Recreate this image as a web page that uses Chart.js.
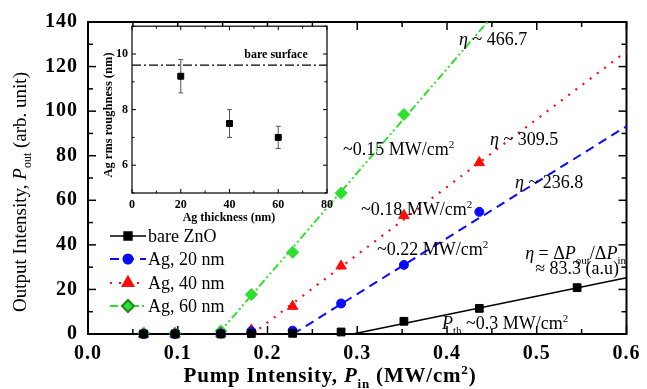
<!DOCTYPE html>
<html>
<head>
<meta charset="utf-8">
<script src="https://cdn.jsdelivr.net/npm/chart.js@4.4.1/dist/chart.umd.min.js"></script>
<style>
  html, body { margin: 0; padding: 0; background: #fff; }
  #wrap { position: relative; width: 647px; height: 389px; overflow: hidden; }
  #mainChart { position: absolute; left: 0; top: 0; }
  #insetChart { position: absolute; left: 95px; top: 15px; }
</style>
</head>
<body>
<div id="wrap">
  <canvas id="mainChart" width="647" height="389"></canvas>
  <canvas id="insetChart" width="245" height="215"></canvas>
</div>
<script>
// pump intensity (MW/cm2) and output intensity (arb. unit) for each sample
const pumpIn  = [0.062, 0.097, 0.148, 0.182, 0.228, 0.282, 0.352, 0.436, 0.545];
const bareZnO = [0, 0, 0, 0.2, 0.3, 0.9, 5.7, 11.5, 20.8];
const ag20nm  = [0, 0, 0.2, 1.2, 1.5, 13.7, 31.0, 54.8, null];
const ag40nm  = [0, 0, 0.3, 1.8, 12.4, 30.5, 53.2, 76.9, null];
const ag60nm  = [0.5, 0.5, 1.3, 17.7, 36.7, 63.2, 98.5, null, null];

// linear fits above threshold
const fitBareX = [0.295, 0.6],  fitBareY = [0, 25.2];
const fitAg20X = [0.2285, 0.6], fitAg20Y = [0, 93.2];
const fitAg40X = [0.183, 0.6],  fitAg40Y = [0, 126.8];
const fitAg60X = [0.145, 0.445], fitAg60Y = [0, 140];

const seriesNames = ['bare ZnO', 'Ag, 20 nm', 'Ag, 40 nm', 'Ag, 60 nm'];
const slopeLabels = ['466.7', '309.5', '236.8', '83.3'];
const thresholdLabels = ['~0.15 MW/cm', '~0.18 MW/cm', '~0.22 MW/cm', '~0.3 MW/cm'];

const xTicks = [0, 0.1, 0.2, 0.3, 0.4, 0.5, 0.6];
const yTicks = [0, 20, 40, 60, 80, 100, 120, 140];

// inset: Ag rms roughness vs Ag thickness
const agThickness = [20, 40, 60];
const roughness = [9.2, 7.5, 7.0];
const roughnessErr = [0.6, 0.5, 0.4];
const bareSurface = 9.6;
const insetXTicks = [0, 20, 40, 60, 80];
const insetYTicks = [6, 8, 10];

const SERIF = '"Liberation Serif", "Times New Roman", serif';
const toPts = (xs, ys) => xs.map((v, i) => ({x: v, y: ys[i]})).filter(p => p.y !== null);

const BLACK = '#000000', BLUE = '#0a0aff', RED = '#ff0a0a', GREEN = '#2ee02e';

// draw text made of pieces: [text, kind] kind = '', 'i', 'sub', 'sup'
function richText(ctx, parts, x, y, align, size, weight) {
  const fontOf = k => {
    const s = (k === 'sub' || k === 'sup') ? Math.round(size * 0.62) : size;
    const it = (k === 'i') ? 'italic ' : '';
    return `${it}${weight} ${s}px ${SERIF}`;
  };
  let w = 0;
  parts.forEach(p => { ctx.font = fontOf(p[1]); w += ctx.measureText(p[0]).width; });
  let cx = align === 'center' ? x - w / 2 : (align === 'right' ? x - w : x);
  ctx.textAlign = 'left';
  ctx.textBaseline = 'alphabetic';
  parts.forEach(p => {
    ctx.font = fontOf(p[1]);
    const dy = p[1] === 'sub' ? size * 0.28 : (p[1] === 'sup' ? -size * 0.38 : 0);
    ctx.fillText(p[0], cx, y + dy);
    cx += ctx.measureText(p[0]).width;
  });
}

function seg(ctx, x1, y1, x2, y2) {
  ctx.beginPath(); ctx.moveTo(x1, y1); ctx.lineTo(x2, y2); ctx.stroke();
}

// frame with inward ticks on all four sides
function drawFrame(chart, o) {
  const {ctx, chartArea: a, scales: {x, y}} = chart;
  ctx.save();
  ctx.strokeStyle = '#000';
  ctx.setLineDash([]);
  ctx.lineWidth = o.tickWidth;
  for (let v = x.min; v <= x.max + 1e-9; v += o.xMinor) {
    const px = x.getPixelForValue(v);
    const major = Math.abs(v / o.xMajor - Math.round(v / o.xMajor)) < 1e-6;
    const len = major ? o.major : o.minor;
    seg(ctx, px, a.bottom, px, a.bottom - len);
    seg(ctx, px, a.top, px, a.top + len);
  }
  for (let v = y.min; v <= y.max + 1e-9; v += o.yMinor) {
    const py = y.getPixelForValue(v);
    const major = Math.abs(v / o.yMajor - Math.round(v / o.yMajor)) < 1e-6;
    const len = major ? o.major : o.minor;
    seg(ctx, a.left, py, a.left + len, py);
    seg(ctx, a.right, py, a.right - len, py);
  }
  ctx.lineWidth = o.frameWidth;
  ctx.strokeRect(a.left, a.top, a.right - a.left, a.bottom - a.top);
  ctx.restore();
}

const mainDecor = {
  id: 'mainDecor',
  beforeDraw(chart) {
    // tick labels of the original are a bit wider than Liberation Serif
    chart.ctx.letterSpacing = '1px';
  },
  beforeDatasetsDraw(chart) {
    chart.ctx.letterSpacing = '0px';
    drawFrame(chart, {xMinor: 0.05, xMajor: 0.1, yMinor: 10, yMajor: 20,
      major: 8, minor: 5, tickWidth: 1.5, frameWidth: 2});
  },
  afterDraw(chart) {
    const ctx = chart.ctx;
    ctx.save();
    ctx.fillStyle = '#000';

    // axis titles
    ctx.letterSpacing = '0.8px';
    richText(ctx, [['Pump Intensity, ', ''], ['P', 'i'], ['in', 'sub'], [' (MW/cm', ''], ['2', 'sup'], [')', '']],
      330, 382, 'center', 21, 'bold');
    ctx.letterSpacing = '0px';
    ctx.save();
    ctx.translate(19, 192);
    ctx.rotate(-Math.PI / 2);
    richText(ctx, [['Output Intensity, ', ''], ['P', 'i'], ['out', 'sub'], [' (arb. unit)', '']],
      0, 7, 'center', 19, 'normal');
    ctx.restore();

    // slope and threshold annotations
    const eta = (v, x, y) => richText(ctx, [['\u03b7', 'i'], [' ~ ' + v, '']], x, y, 'left', 18, 'normal');
    eta(slopeLabels[0], 459, 45);
    eta(slopeLabels[1], 490, 145);
    eta(slopeLabels[2], 515, 188);
    const thr = (t, x, y) => richText(ctx, [[t, ''], ['2', 'sup']], x, y, 'left', 18, 'normal');
    thr(thresholdLabels[0], 343, 155);
    thr(thresholdLabels[1], 361, 215);
    thr(thresholdLabels[2], 377, 255);
    richText(ctx, [['\u03b7', 'i'], [' = \u0394', ''], ['P', 'i'], ['out', 'sub'], ['/\u0394', ''], ['P', 'i'], ['in', 'sub']],
      626, 259, 'right', 18, 'normal');
    richText(ctx, [['\u2248 ' + slopeLabels[3] + ' (a.u)', '']], 619, 274, 'right', 18, 'normal');
    richText(ctx, [['P', 'i'], ['th', 'sub'], [' ' + thresholdLabels[3], ''], ['2', 'sup']],
      442, 329, 'left', 18, 'normal');

    // legend
    const ds = chart.data.datasets;
    const rowY = [236, 259, 283, 306];
    for (let i = 0; i < 4; i++) {
      const d = ds[i], f = ds[i + 4];
      ctx.save();
      ctx.strokeStyle = f.borderColor;
      ctx.lineWidth = f.borderWidth;
      ctx.setLineDash(f.borderDash || []);
      seg(ctx, 110, rowY[i], 146, rowY[i]);
      ctx.setLineDash([]);
      ctx.fillStyle = d.backgroundColor;
      ctx.strokeStyle = i === 3 ? '#1e8a1e' : d.borderColor;
      Chart.helpers.drawPoint(ctx, {pointStyle: d.pointStyle, radius: d.pointRadius, rotation: 0,
        borderWidth: i === 3 ? 1 : d.borderWidth}, 128, rowY[i]);
      ctx.restore();
      ctx.fillStyle = '#000';
      richText(ctx, [[seriesNames[i], '']], 148, rowY[i] + 6, 'left', 18, 'normal');
    }
    ctx.restore();
  }
};

const markerSet = (label, ys, style, color, r) => ({
  label, data: toPts(pumpIn, ys), showLine: false, clip: false,
  pointStyle: style, pointRadius: r, pointHoverRadius: r,
  backgroundColor: color, borderColor: color, borderWidth: 1
});
const fitSet = (xs, ys, color, dash, w) => ({
  data: toPts(xs, ys), showLine: true, pointRadius: 0, clip: false,
  borderColor: color, borderWidth: w, borderDash: dash, fill: false
});

new Chart(document.getElementById('mainChart'), {
  type: 'scatter',
  data: {
    datasets: [
      markerSet(seriesNames[0], bareZnO, 'rect', BLACK, 5.5),
      markerSet(seriesNames[1], ag20nm, 'circle', BLUE, 4.5),
      markerSet(seriesNames[2], ag40nm, 'triangle', RED, 6),
      markerSet(seriesNames[3], ag60nm, 'rectRot', GREEN, 6),
      fitSet(fitBareX, fitBareY, BLACK, [], 1.6),
      fitSet(fitAg20X, fitAg20Y, BLUE, [9, 6], 2),
      fitSet(fitAg40X, fitAg40Y, RED, [2, 7], 2.2),
      fitSet(fitAg60X, fitAg60Y, GREEN, [8, 3, 2, 3, 2, 3], 2)
    ]
  },
  options: {
    responsive: false,
    animation: false,
    layout: {padding: {left: 0, top: 17, right: 15, bottom: 0}},
    plugins: {legend: {display: false}, tooltip: {enabled: false}},
    scales: {
      x: {
        type: 'linear', min: 0, max: 0.6,
        afterBuildTicks: s => { s.ticks = xTicks.map(v => ({value: v})); },
        afterFit: s => { s.height = 55; },
        grid: {display: false, drawTicks: false}, border: {display: false},
        ticks: {color: '#000', padding: 8, maxRotation: 0, autoSkip: false,
          font: {family: SERIF, size: 20, weight: 'bold'},
          callback: v => v.toFixed(1)}
      },
      y: {
        min: 0, max: 140,
        afterBuildTicks: s => { s.ticks = yTicks.map(v => ({value: v})); },
        afterFit: s => { s.width = 88; },
        grid: {display: false, drawTicks: false}, border: {display: false},
        ticks: {color: '#000', padding: 10, font: {family: SERIF, size: 20, weight: 'bold'}}
      }
    }
  },
  plugins: [mainDecor]
});

// inset chart
const insetDecor = {
  id: 'insetDecor',
  beforeDatasetsDraw(chart) {
    const {ctx, chartArea: a} = chart;
    ctx.save();
    ctx.fillStyle = '#fff';
    ctx.fillRect(a.left, a.top, a.right - a.left, a.bottom - a.top);
    ctx.restore();
    drawFrame(chart, {xMinor: 10, xMajor: 20, yMinor: 1, yMajor: 2,
      major: 4, minor: 2.5, tickWidth: 1, frameWidth: 1.2});
    // error bars
    const {scales: {x, y}} = chart;
    ctx.save();
    ctx.strokeStyle = '#555';
    ctx.lineWidth = 1;
    agThickness.forEach((t, i) => {
      const px = x.getPixelForValue(t);
      const top = y.getPixelForValue(roughness[i] + roughnessErr[i]);
      const bot = y.getPixelForValue(roughness[i] - roughnessErr[i]);
      seg(ctx, px, top, px, bot);
      seg(ctx, px - 2.5, top, px + 2.5, top);
      seg(ctx, px - 2.5, bot, px + 2.5, bot);
    });
    ctx.restore();
  },
  afterDraw(chart) {
    const ctx = chart.ctx;
    ctx.save();
    ctx.fillStyle = '#000';
    richText(ctx, [['bare surface', '']], 181, 43, 'center', 12, 'bold');
    richText(ctx, [['Ag thickness (nm)', '']], 134, 206, 'center', 12, 'bold');
    ctx.translate(13, 100);
    ctx.rotate(-Math.PI / 2);
    richText(ctx, [['Ag rms roughness (nm)', '']], 0, 4, 'center', 12.5, 'bold');
    ctx.restore();
  }
};

new Chart(document.getElementById('insetChart'), {
  type: 'scatter',
  data: {
    datasets: [
      {data: toPts(agThickness, roughness), pointStyle: 'rect', pointRadius: 4.2,
        backgroundColor: '#000', borderColor: '#000', borderWidth: 1, clip: false},
      {data: [{x: 0, y: bareSurface}, {x: 80, y: bareSurface}], showLine: true, pointRadius: 0,
        borderColor: '#000', borderWidth: 1.1, borderDash: [9, 3, 2, 3]}
    ]
  },
  options: {
    responsive: false,
    animation: false,
    layout: {padding: {left: 0, top: 10, right: 13, bottom: 0}},
    plugins: {legend: {display: false}, tooltip: {enabled: false}},
    scales: {
      x: {
        type: 'linear', min: 0, max: 80,
        afterBuildTicks: s => { s.ticks = insetXTicks.map(v => ({value: v})); },
        afterFit: s => { s.height = 37; },
        grid: {display: false, drawTicks: false}, border: {display: false},
        ticks: {color: '#000', padding: 5, maxRotation: 0, autoSkip: false,
          font: {family: SERIF, size: 12, weight: 'bold'}}
      },
      y: {
        min: 5, max: 11,
        afterBuildTicks: s => { s.ticks = insetYTicks.map(v => ({value: v})); },
        afterFit: s => { s.width = 37; },
        grid: {display: false, drawTicks: false}, border: {display: false},
        ticks: {color: '#000', padding: 4, font: {family: SERIF, size: 12, weight: 'bold'}}
      }
    }
  },
  plugins: [insetDecor]
});
</script>
</body>
</html>
